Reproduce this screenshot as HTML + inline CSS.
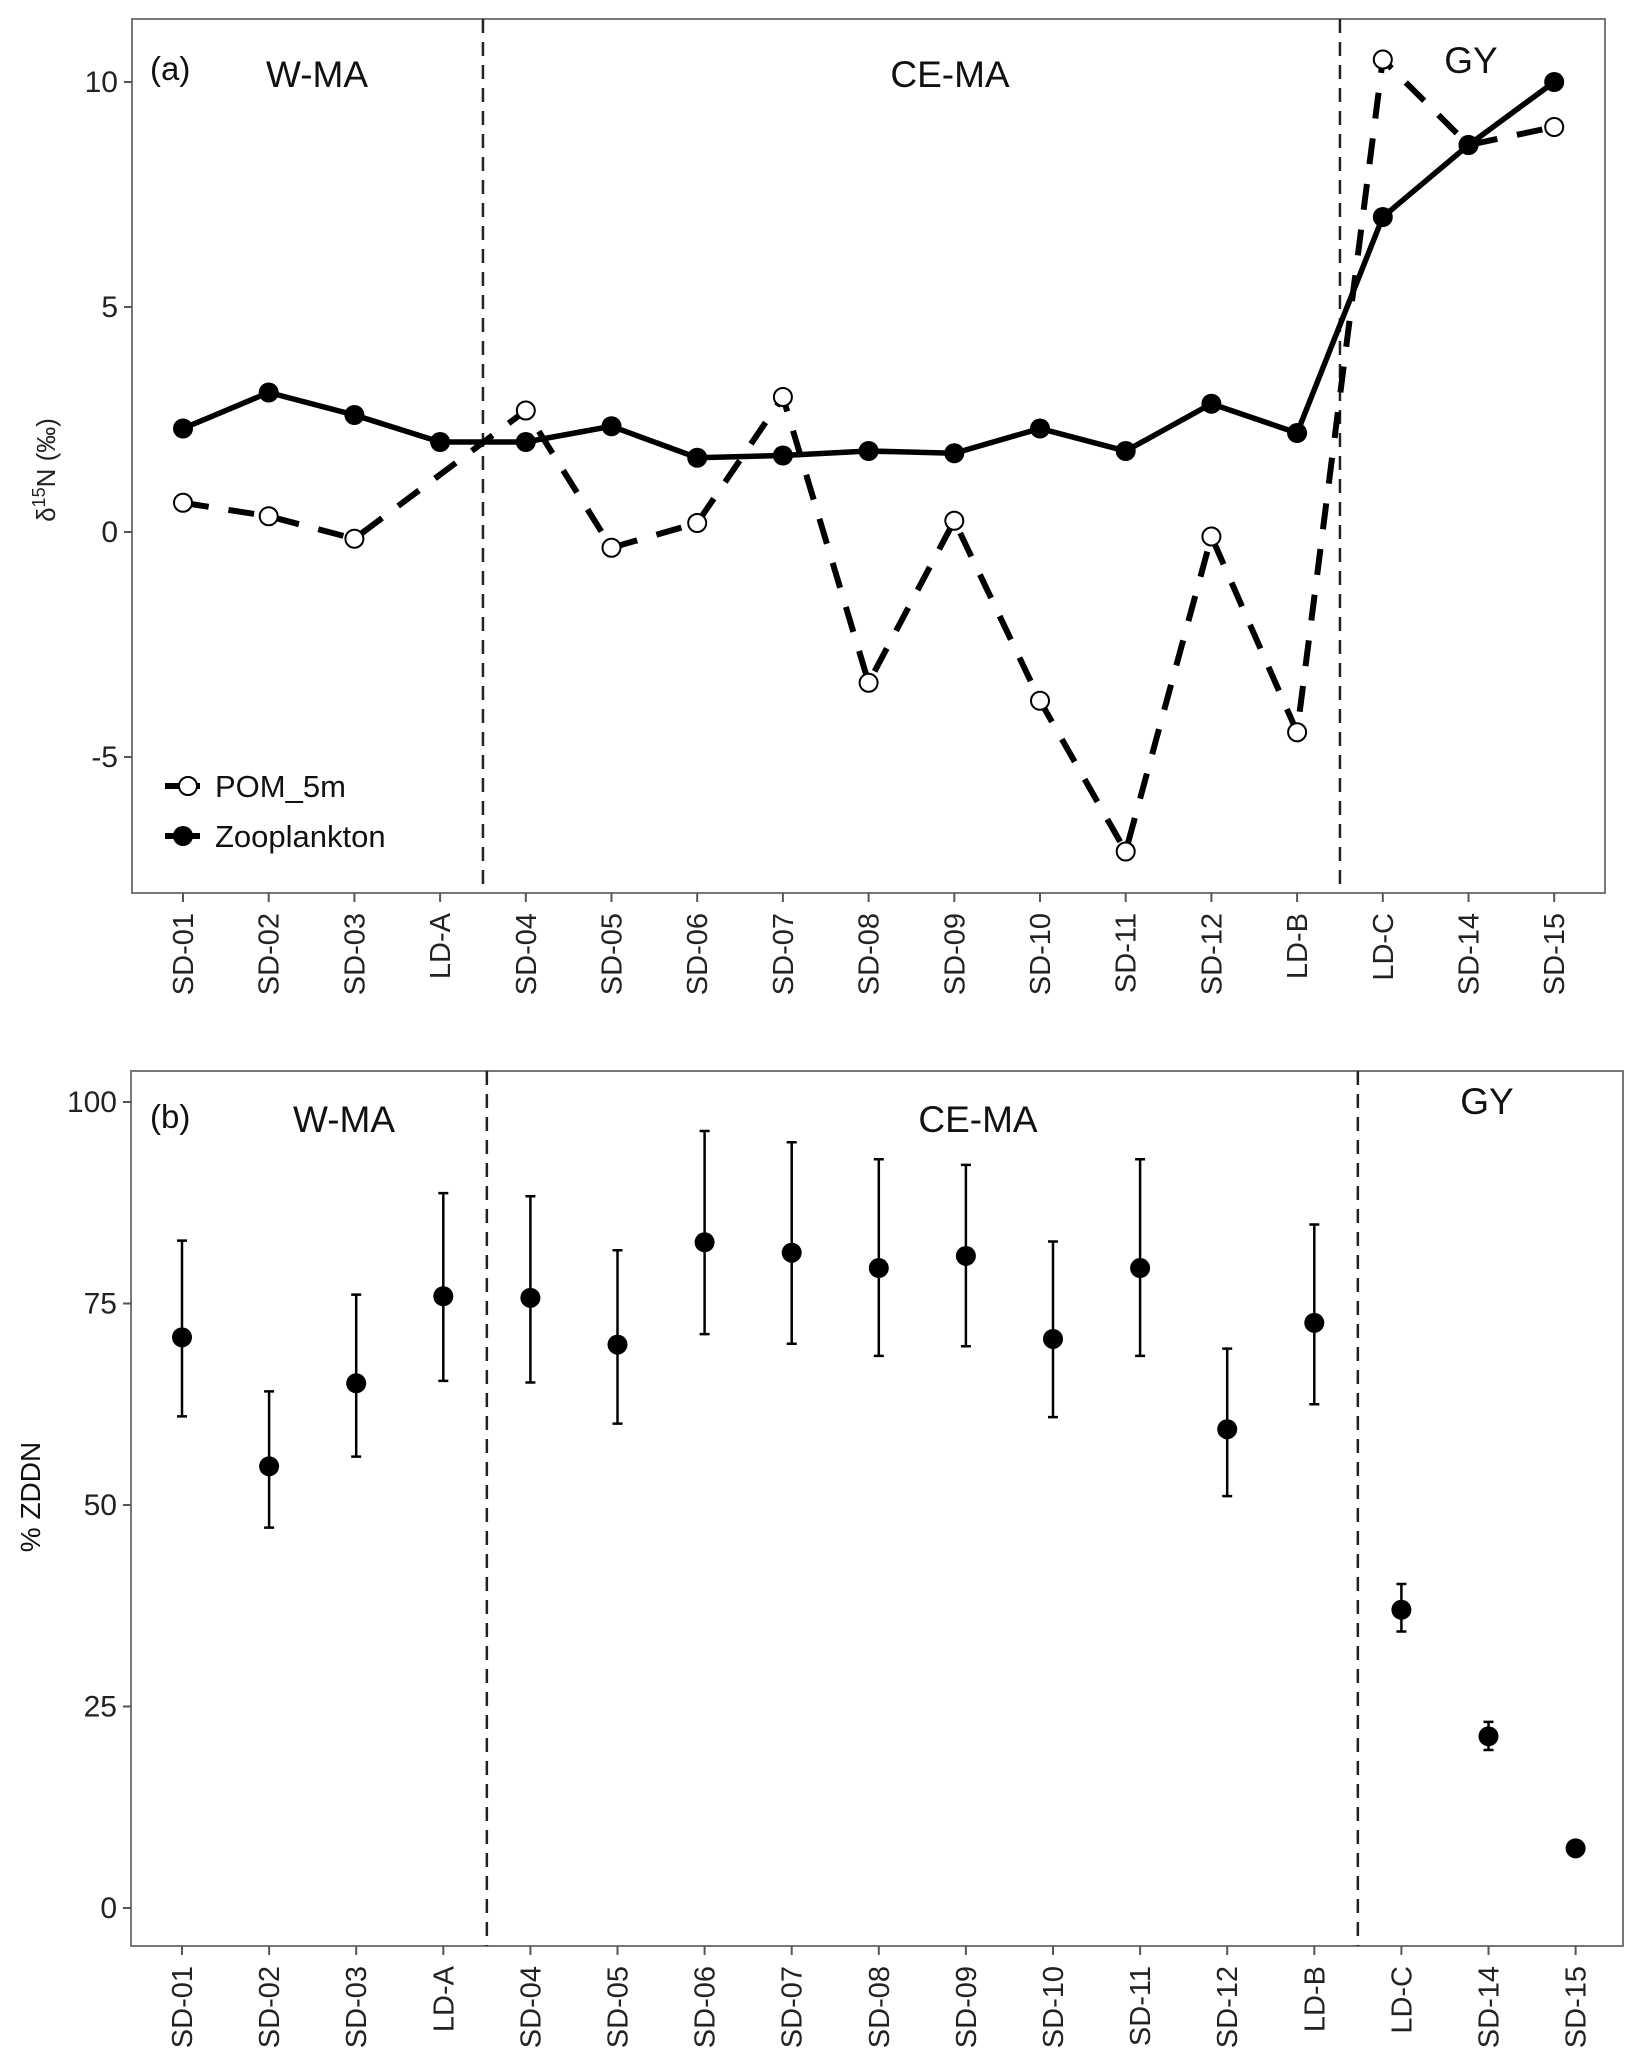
<!DOCTYPE html>
<html><head><meta charset="utf-8"><style>
html,body{margin:0;padding:0;background:#fff}
svg{display:block;font-family:"Liberation Sans",Arial,sans-serif}
</style></head><body>
<svg id="chart" width="1643" height="2072" viewBox="0 0 1643 2072" xmlns="http://www.w3.org/2000/svg">
<g id="pa"></g>
<g id="pb"></g>
</svg>
<script>
const categories=["SD-01","SD-02","SD-03","LD-A","SD-04","SD-05","SD-06","SD-07","SD-08","SD-09","SD-10","SD-11","SD-12","LD-B","LD-C","SD-14","SD-15"];
const zooValues=[2.3,3.1,2.6,2.0,2.0,2.35,1.65,1.7,1.8,1.75,2.3,1.8,2.85,2.2,7.0,8.6,10.0];
const pomValues=[0.65,0.35,-0.15,null,2.7,-0.35,0.2,3.0,-3.35,0.25,-3.75,-7.1,-0.1,-4.45,10.5,8.6,9.0];
const aTicks=[-5,0,5,10];
const zddnMean=[70.8,54.8,65.1,75.9,75.7,69.9,82.6,81.3,79.4,80.9,70.6,79.4,59.4,72.6,37.0,21.3,7.4];
const zddnUpper=[82.8,64.1,76.1,88.7,88.3,81.6,96.4,95.0,92.9,92.2,82.7,92.9,69.4,84.8,40.2,23.1,null];
const zddnLower=[61.0,47.2,56.0,65.4,65.2,60.1,71.2,70.0,68.5,69.7,60.9,68.5,51.1,62.5,34.3,19.6,null];
const bTicks=[0,25,50,75,100];
const NS="http://www.w3.org/2000/svg";
function mk(parent,tag,attrs,text){const e=document.createElementNS(NS,tag);for(const k in attrs)e.setAttribute(k,attrs[k]);if(text!==undefined)e.textContent=text;parent.appendChild(e);return e;}

function frame(g,L,T,R,B,xs,ys,ticks,dashX){
  const r=mk(g,'rect',{x:L,y:T,width:R-L,height:B-T,fill:'none',stroke:'#777','stroke-width':2});
  
  
  ticks.forEach(t=>{
    const y=ys(t);
    const l=mk(g,'line',{x1:L-8,x2:L,y1:y,y2:y,stroke:'#555','stroke-width':2});
    
    
    const tx=mk(g,'text',{x:L-14,y:y+10,'font-size':30,'text-anchor':'end',fill:'#222'},String(t));
    
    
  });
  categories.forEach((c,i)=>{
    const x=xs(i);
    const l=mk(g,'line',{x1:x,x2:x,y1:B,y2:B+9,stroke:'#555','stroke-width':2});
    
    
    const tx=mk(g,'text',{x:0,y:0,'font-size':29,'text-anchor':'end',fill:'#222',transform:`translate(${x+10},${B+20}) rotate(-90)`},c);
    
    
  });
  dashX.forEach(x=>{
    const l=mk(g,'line',{x1:x,x2:x,y1:T,y2:B,stroke:'#222','stroke-width':2.5,'stroke-dasharray':'14,9'});
    
    
  });
}
function lbl(g,x,y,s,t,anchor,name){const e=mk(g,'text',{x:x,y:y,'font-size':s,'text-anchor':anchor||'middle',fill:'#111'},t);return e;}

// Panel A
(function(){
  const g=document.getElementById('pa');
  const L=132,T=19,R=1605,B=893;
  const xs=i=>183+i*85.7;
  const ys=v=>532-v*45;
  frame(g,L,T,R,B,xs,ys,aTicks,[(xs(3)+xs(4))/2,(xs(13)+xs(14))/2]);
  lbl(g,150,80,33,'(a)','start','panel-label-a');
  lbl(g,317,87,37,'W-MA','middle','region-label-wma');
  lbl(g,950,87,37,'CE-MA','middle','region-label-cema');
  lbl(g,1471,73,37,'GY','middle','region-label-gy');
  const yt=mk(g,'text',{x:0,y:0,'font-size':26,'text-anchor':'middle',fill:'#222',transform:'translate(55,470) rotate(-90)'});
  
  
  yt.innerHTML='δ<tspan dy="-10" font-size="18">15</tspan><tspan dy="10">N (‰)</tspan>';
  const pp=[];pomValues.forEach((v,i)=>{if(v!==null)pp.push(xs(i)+','+ys(v));});
  const pl=mk(g,'polyline',{points:pp.join(' '),fill:'none',stroke:'#000','stroke-width':6,'stroke-dasharray':'26,20'});
  
  
  const zp=zooValues.map((v,i)=>xs(i)+','+ys(v)).join(' ');
  const zl=mk(g,'polyline',{points:zp,fill:'none',stroke:'#000','stroke-width':5.5});
  
  
  pomValues.forEach((v,i)=>{if(v===null)return;
    const c=mk(g,'circle',{cx:xs(i),cy:ys(v),r:9,fill:'#fff',stroke:'#000','stroke-width':2});
    
    
  });
  zooValues.forEach((v,i)=>{
    const c=mk(g,'circle',{cx:xs(i),cy:ys(v),r:10,fill:'#000'});
    
    
  });
  const lg=mk(g,'g',{});
  
  
  const l1=mk(lg,'line',{x1:165,x2:200,y1:786,y2:786,stroke:'#000','stroke-width':6});
  
  
  mk(lg,'circle',{cx:188,cy:786,r:9,fill:'#fff',stroke:'#000','stroke-width':2});
  lbl(lg,215,797,31,'POM_5m','start','legend-pom-label');
  const l2=mk(lg,'line',{x1:165,x2:200,y1:836,y2:836,stroke:'#000','stroke-width':6});
  
  
  mk(lg,'circle',{cx:183,cy:836,r:10,fill:'#000'});
  lbl(lg,215,847,31,'Zooplankton','start','legend-zoo-label');
})();

// Panel B
(function(){
  const g=document.getElementById('pb');
  const L=131,T=1071,R=1623,B=1946;
  const xs=i=>182+i*87.1;
  const ys=v=>1908-v*8.06;
  frame(g,L,T,R,B,xs,ys,bTicks,[(xs(3)+xs(4))/2,(xs(13)+xs(14))/2]);
  lbl(g,150,1128,33,'(b)','start','panel-label-b');
  lbl(g,344,1132,37,'W-MA','middle','region-label-wma');
  lbl(g,978,1132,37,'CE-MA','middle','region-label-cema');
  lbl(g,1487,1114,37,'GY','middle','region-label-gy');
  lbl(g,0,0,28,'% ZDDN','middle','y-axis-title').setAttribute('transform','translate(40,1497) rotate(-90)');
  zddnMean.forEach((m,i)=>{
    const x=xs(i);
    if(zddnUpper[i]!==null){
      const e=mk(g,'path',{d:`M${x},${ys(zddnUpper[i])}V${ys(zddnLower[i])}M${x-5},${ys(zddnUpper[i])}H${x+5}M${x-5},${ys(zddnLower[i])}H${x+5}`,stroke:'#000','stroke-width':2.5,fill:'none'});
      
      
    }
    const c=mk(g,'circle',{cx:x,cy:ys(m),r:10,fill:'#000'});
    
    
  });
})();
</script>
</body></html>
